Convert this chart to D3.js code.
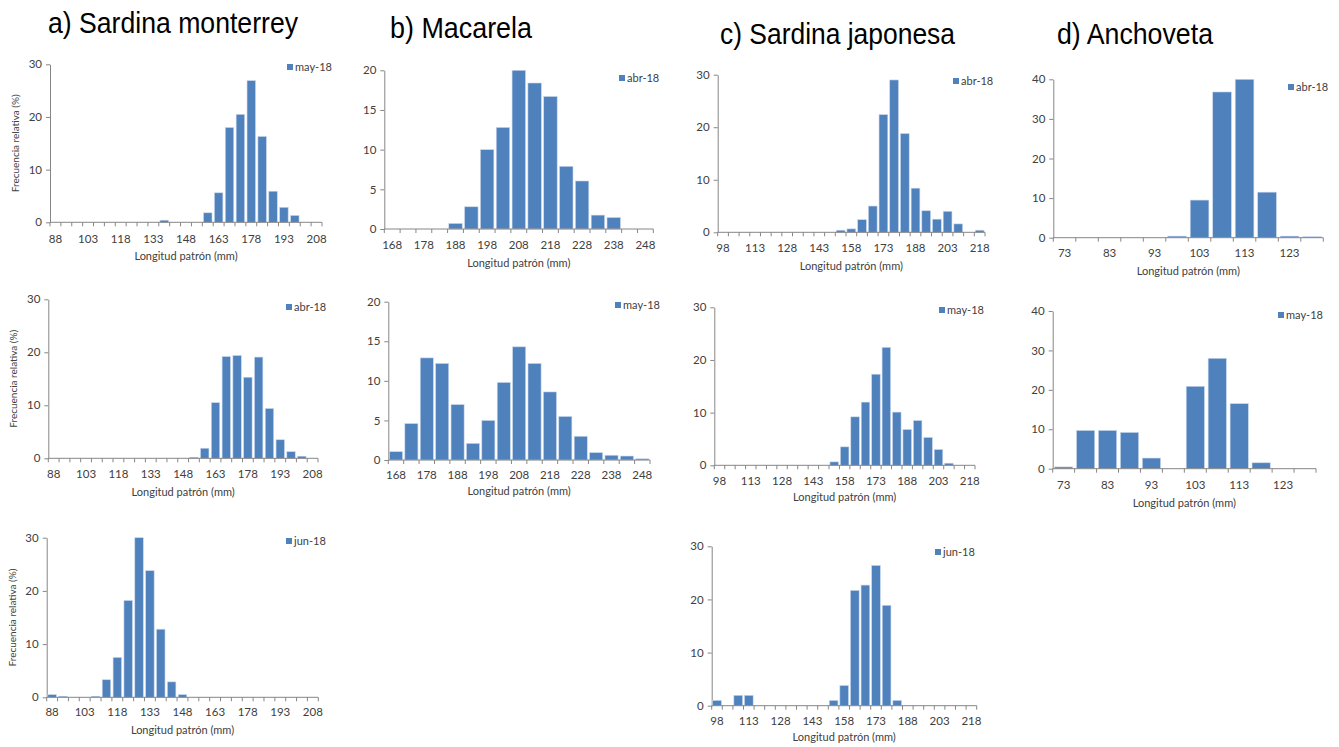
<!DOCTYPE html>
<html>
<head>
<meta charset="utf-8">
<script src="https://cdn.jsdelivr.net/npm/d3@7"></script>
<style>
  body { margin: 0; background: #fff; }
  text { font-family: Lato, "Open Sans", sans-serif; }
  .title { font-family: "Liberation Sans", Arial, sans-serif; }
</style>
</head>
<body>
<svg width="1339" height="747"></svg>
<script>
// species titles
var titles = ["a) Sardina monterrey", "b) Macarela", "c) Sardina japonesa", "d) Anchoveta"];

// length classes (mm)
var catsMonterrey = [88,93,98,103,108,113,118,123,128,133,138,143,148,153,158,163,168,173,178,183,188,193,198,203,208];
var catsMacarela = [168,173,178,183,188,193,198,203,208,213,218,223,228,233,238,243,248];
var catsJaponesa = [98,103,108,113,118,123,128,133,138,143,148,153,158,163,168,173,178,183,188,193,198,203,208,213,218];
var catsAnchoveta = [73,78,83,88,93,98,103,108,113,118,123,128];

// relative frequency (%)
var monterreyMay = [0,0,0,0,0,0,0,0,0,0,0.4,0,0,0,1.8,5.6,18.0,20.5,26.9,16.3,5.9,2.85,1.3,0,0];
var monterreyAbr = [0,0,0,0,0,0,0,0,0,0,0,0,0,0.2,1.9,10.5,19.2,19.4,15.3,19.1,9.4,3.5,1.25,0.4,0];
var monterreyJun = [0.5,0.2,0,0,0.2,3.3,7.5,18.2,30,23.8,12.8,2.9,0.5,0,0,0,0,0,0,0,0,0,0,0,0];
var macarelaAbr = [0,0,0,0,0.7,2.8,10,12.8,20,18.4,16.7,7.9,6.05,1.75,1.45,0,0];
var macarelaMay = [1.05,4.6,12.9,12.2,7.0,2.1,5.0,9.8,14.3,12.2,8.6,5.5,3.0,0.93,0.6,0.5,0.15];
var japonesaAbr = [0,0,0,0,0,0,0,0,0,0,0,0.4,0.65,2.4,5.0,22.4,29,18.8,8.4,4.1,2.5,4.0,1.6,0,0.4];
var japonesaMay = [0,0,0,0,0,0,0,0,0,0,0,0.65,3.5,9.2,12.0,17.3,22.4,10.1,6.8,8.5,5.3,3.0,0.4,0,0];
var japonesaJun = [1.0,0,1.95,1.95,0,0,0,0,0,0,0,1.0,3.8,21.7,22.7,26.4,18.9,1.0,0,0,0,0,0,0,0];
var anchovetaAbr = [0,0,0,0,0,0.4,9.5,36.8,40,11.5,0.4,0.25];
var anchovetaMay = [0.45,9.7,9.7,9.2,2.7,0,20.9,28,16.5,1.5,0,0];

// y ticks
var ticks30 = [0,10,20,30];
var ticks20 = [0,5,10,15,20];
var ticks40 = [0,10,20,30,40];

var svg = d3.select("svg");
var axisColor = "#868686", textColor = "#404040", barColor = "#4F81BD";

// layout of every small chart: plot box (l, r, t, b), label baselines, legend spot
var panels = [
  {cats: catsMonterrey, values: monterreyMay, label: "may-18", ticks: ticks30, every: 3, gap: 0.22, l: 50, r: 322, t: 64.3, b: 222.3, tickY: 242.5, titleY: 259.5, leg: [287, 64], yTitle: true},
  {cats: catsMonterrey, values: monterreyAbr, label: "abr-18", ticks: ticks30, every: 3, gap: 0.22, l: 48.3, r: 318, t: 299.3, b: 458.3, tickY: 477.5, titleY: 495.5, leg: [286, 304], yTitle: true},
  {cats: catsMonterrey, values: monterreyJun, label: "jun-18", ticks: ticks30, every: 3, gap: 0.22, l: 46.7, r: 318.3, t: 537.7, b: 697.3, tickY: 716, titleY: 733.5, leg: [286, 538], yTitle: true},
  {cats: catsMacarela, values: macarelaAbr, label: "abr-18", ticks: ticks20, every: 2, gap: 0.15, l: 384.3, r: 653.3, t: 70.3, b: 229, tickY: 248.5, titleY: 267, leg: [619, 75]},
  {cats: catsMacarela, values: macarelaMay, label: "may-18", ticks: ticks20, every: 2, gap: 0.15, l: 388.3, r: 650, t: 301.7, b: 460, tickY: 478.5, titleY: 495, leg: [615, 302]},
  {cats: catsJaponesa, values: japonesaAbr, label: "abr-18", ticks: ticks30, every: 3, gap: 0.18, l: 717.7, r: 985, t: 74.7, b: 232.3, tickY: 252, titleY: 269.5, leg: [953, 78]},
  {cats: catsJaponesa, values: japonesaMay, label: "may-18", ticks: ticks30, every: 3, gap: 0.18, l: 714.3, r: 975, t: 307.3, b: 465.3, tickY: 485, titleY: 501, leg: [939, 307]},
  {cats: catsJaponesa, values: japonesaJun, label: "jun-18", ticks: ticks30, every: 3, gap: 0.18, l: 711.7, r: 976.7, t: 546.3, b: 705.7, tickY: 724.5, titleY: 741, leg: [935, 549]},
  {cats: catsAnchoveta, values: anchovetaAbr, label: "abr-18", ticks: ticks40, every: 2, gap: 0.17, l: 1053.3, r: 1323.3, t: 79.3, b: 237.7, tickY: 257, titleY: 274.5, leg: [1288, 84]},
  {cats: catsAnchoveta, values: anchovetaMay, label: "may-18", ticks: ticks40, every: 2, gap: 0.17, l: 1052.7, r: 1316, t: 311, b: 468.7, tickY: 489, titleY: 507, leg: [1278, 312]}
];

// big titles (x, baseline, width)
var titlePos = [[48, 33, 250], [390, 38, 142], [720, 44, 235], [1057, 44, 156]];
svg.selectAll(".title").data(titles).enter().append("text")
  .attr("class", "title")
  .attr("x", function (d, i) { return titlePos[i][0]; })
  .attr("y", function (d, i) { return titlePos[i][1]; })
  .attr("textLength", function (d, i) { return titlePos[i][2]; })
  .attr("lengthAdjust", "spacingAndGlyphs")
  .attr("font-size", 29)
  .attr("fill", "#000")
  .text(function (d) { return d; });

panels.forEach(drawPanel);

function drawPanel(p) {
  var g = svg.append("g");
  var x = d3.scaleBand().domain(p.cats).range([p.l, p.r]);
  var y = d3.scaleLinear().domain([0, p.ticks[p.ticks.length - 1]]).range([p.b, p.t]);
  var step = x.bandwidth(), bw = step * (1 - p.gap);

  // y axis
  var ya = g.append("g")
    .attr("transform", "translate(" + p.l + ",0)")
    .call(d3.axisLeft(y).tickValues(p.ticks).tickSize(4).tickSizeOuter(0).tickPadding(4));
  ya.select(".domain").attr("stroke", axisColor);
  ya.selectAll(".tick line").attr("stroke", axisColor);
  ya.selectAll(".tick text").attr("fill", textColor).attr("font-size", 11.5).attr("font-family", "Lato, sans-serif");

  // bars
  g.selectAll("rect.bar")
    .data(p.values.map(function (v, i) { return {c: p.cats[i], v: v}; }).filter(function (d) { return d.v > 0; }))
    .enter().append("rect")
    .attr("class", "bar")
    .attr("x", function (d) { return x(d.c) + (step - bw) / 2; })
    .attr("y", function (d) { return y(d.v); })
    .attr("width", bw)
    .attr("height", function (d) { return y(0) - y(d.v); })
    .attr("fill", barColor)
    .attr("stroke", "#c9d8ec")
    .attr("stroke-width", 0.6);

  // x axis line + boundary ticks
  g.append("line")
    .attr("x1", p.l).attr("x2", p.r)
    .attr("y1", y(0)).attr("y2", y(0))
    .attr("stroke", axisColor);
  var edges = p.cats.map(function (c) { return x(c); }).concat([p.r]);
  g.selectAll("line.xt").data(edges).enter().append("line")
    .attr("class", "xt")
    .attr("x1", function (d) { return d; }).attr("x2", function (d) { return d; })
    .attr("y1", y(0)).attr("y2", y(0) + 4)
    .attr("stroke", axisColor);

  // category labels, every n-th class
  g.selectAll("text.xl")
    .data(p.cats.filter(function (c, i) { return i % p.every === 0; }))
    .enter().append("text")
    .attr("class", "xl")
    .attr("x", function (c) { return x(c) + step / 2; })
    .attr("y", p.tickY)
    .attr("text-anchor", "middle")
    .attr("font-size", 11.5)
    .attr("fill", textColor)
    .text(function (c) { return c; });

  // axis title
  g.append("text")
    .attr("x", (p.l + p.r) / 2)
    .attr("y", p.titleY)
    .attr("text-anchor", "middle")
    .attr("font-size", 11)
    .attr("fill", textColor)
    .text("Longitud patrón (mm)");

  if (p.yTitle) {
    g.append("text")
      .attr("transform", "translate(" + (p.l - 31) + "," + ((p.t + p.b) / 2) + ") rotate(-90)")
      .attr("text-anchor", "middle")
      .attr("font-size", 10)
      .attr("fill", textColor)
      .text("Frecuencia relativa (%)");
  }

  // legend
  g.append("rect")
    .attr("x", p.leg[0]).attr("y", p.leg[1])
    .attr("width", 6).attr("height", 6)
    .attr("fill", barColor);
  g.append("text")
    .attr("x", p.leg[0] + 8).attr("y", p.leg[1] + 7)
    .attr("font-size", 11)
    .attr("fill", textColor)
    .text(p.label);
}
</script>
</body>
</html>
